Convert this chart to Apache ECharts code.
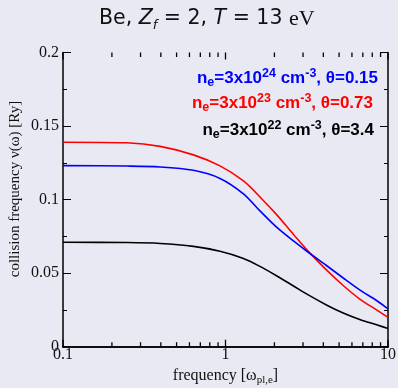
<!DOCTYPE html>
<html>
<head>
<meta charset="utf-8">
<script src="https://cdn.jsdelivr.net/npm/echarts@6/dist/echarts.min.js"></script>
<style>
html,body{margin:0;padding:0;background:#e9e9f3;}
#c{width:398px;height:388px;}
</style>
</head>
<body>
<div id="c"></div>
<script>
// frequency in units of omega_pl,e ; collision frequency in Ry
var freqs   = [0.1, 0.247, 0.396, 0.635, 0.925, 1.29, 1.63, 2.07, 2.62, 3.23, 4.18, 5.3, 6.7, 8.5, 10];
var nuBlue  = [0.1231, 0.1228, 0.1222, 0.1199, 0.1144, 0.1039, 0.0923, 0.0811, 0.0719, 0.0642, 0.0552, 0.0467, 0.0386, 0.0314, 0.0257];
var nuRed   = [0.1390, 0.1386, 0.1362, 0.1304, 0.1229, 0.1127, 0.1018, 0.0896, 0.0763, 0.0648, 0.0522, 0.0416, 0.0324, 0.0250, 0.0199];
var nuBlack = [0.0710, 0.0708, 0.0702, 0.0682, 0.0649, 0.0600, 0.0546, 0.0481, 0.0413, 0.0352, 0.0284, 0.0229, 0.0185, 0.0149, 0.0124];
var xMajorTicks = [0.1, 1, 10];
var xMinorTicks = [0.2, 0.3, 0.4, 0.5, 0.6, 0.7, 0.8, 0.9, 2, 3, 4, 5, 6, 7, 8, 9];
var xTickLabels = ['0.1', '1', '10'];
var yTickLabels = ['0', '0.05', '0.1', '0.15', '0.2'];

function pairs(xs, ys){ return xs.map(function(x,i){ return [x, ys[i]]; }); }

var chart = echarts.init(document.getElementById('c'), null, {renderer:'canvas'});
var serif = 'Liberation Serif';
var sans = 'Liberation Sans';

var legendRich = function(color){
  return {
    m: {fontFamily: sans, fontWeight: 'bold', fontSize: 17, fill: color, color: color, lineHeight: 22},
    sub: {fontFamily: sans, fontWeight: 'bold', fontSize: 12.5, fill: color, color: color, lineHeight: 10, verticalAlign: 'bottom'},
    sup: {fontFamily: sans, fontWeight: 'bold', fontSize: 12.5, fill: color, color: color, lineHeight: 10, verticalAlign: 'top'}
  };
};

// x tick items: [x, y at plot edge, direction (into plot)]
var majorItems = [], minorItems = [];
xMajorTicks.forEach(function(x){ majorItems.push([x, 0, -1]); majorItems.push([x, 0.2, 1]); });
xMinorTicks.forEach(function(x){ minorItems.push([x, 0, -1]); minorItems.push([x, 0.2, 1]); });

function tickSeries(items, len){
  return {type: 'custom', silent: true, clip: false, z: 10,
    data: items, encode: {x: 0, y: 1},
    renderItem: function(params, api){
      var p = api.coord([api.value(0), api.value(1)]);
      var d = api.value(2);
      return {type: 'line', shape: {x1: p[0], y1: p[1], x2: p[0], y2: p[1] + len * d},
              style: {stroke: '#000', lineWidth: 1.3}};
    }};
}

var option = {
  backgroundColor: '#e9e9f3',
  animation: false,
  title: {
    text: '{n|Be, }{i|Z}{s|f}{n| = 2, }{i|T}{n| = 13 }{r|eV}',
    left: 94,
    top: 1,
    textStyle: {
      fontWeight: 'normal',
      rich: {
        n: {fontFamily: 'DejaVu Sans', fontWeight: 'normal', fontSize: 20.5, color: '#111', lineHeight: 26},
        i: {fontFamily: 'DejaVu Sans', fontWeight: 'normal', fontStyle: 'italic', fontSize: 20.5, color: '#111', lineHeight: 26},
        s: {fontFamily: 'DejaVu Sans', fontWeight: 'normal', fontStyle: 'italic', fontSize: 13, color: '#111', lineHeight: 12, verticalAlign: 'bottom'},
        r: {fontFamily: serif, fontWeight: 'normal', fontSize: 22, color: '#111', lineHeight: 26}
      }
    }
  },
  grid: {left: 63, right: 10, top: 52.5, bottom: 41.3, show: false, containLabel: false, outerBoundsMode: 'none'},
  xAxis: [{
    type: 'log', logBase: 10, min: 0.1, max: 10, position: 'bottom',
    axisLine: {lineStyle: {color: '#000', width: 1.5}},
    axisTick: {show: false},
    splitLine: {show: false},
    axisLabel: {
      fontFamily: serif, fontSize: 16, color: '#111', margin: 0,
      formatter: function(v){ var s = String(+v.toPrecision(3)); return xTickLabels.indexOf(s) >= 0 ? s : ''; }
    },
    name: '{n|frequency [ω}{s|pl,e}{n|]}',
    nameLocation: 'middle', nameGap: 19,
    nameTextStyle: {
      rich: {
        n: {fontFamily: serif, fontSize: 16, color: '#111', lineHeight: 20},
        s: {fontFamily: serif, fontSize: 11, color: '#111', lineHeight: 10, verticalAlign: 'bottom'}
      }
    }
  }, {
    type: 'log', logBase: 10, min: 0.1, max: 10, position: 'top',
    axisLine: {lineStyle: {color: '#000', width: 1.5}},
    axisTick: {show: false},
    axisLabel: {show: false}, splitLine: {show: false}
  }],
  yAxis: [{
    type: 'value', min: 0, max: 0.2, interval: 0.05, position: 'left',
    axisLine: {show: true, lineStyle: {color: '#000', width: 1.5}},
    axisTick: {show: true, inside: true, length: 8, lineStyle: {color: '#000', width: 1}},
    minorTick: {show: true, splitNumber: 2, length: 4, lineStyle: {color: '#000', width: 1}},
    splitLine: {show: false},
    axisLabel: {
      fontFamily: serif, fontSize: 16, color: '#111', margin: 4,
      formatter: function(v){ var s = String(+v.toFixed(3)); return yTickLabels.indexOf(s) >= 0 ? s : ''; }
    }
  }, {
    type: 'value', min: 0, max: 0.2, interval: 0.05, position: 'right',
    axisLine: {show: true, lineStyle: {color: '#000', width: 1.5}},
    axisTick: {show: true, inside: true, length: 8, lineStyle: {color: '#000', width: 1}},
    minorTick: {show: true, splitNumber: 2, length: 4, lineStyle: {color: '#000', width: 1}},
    splitLine: {show: false}, axisLabel: {show: false}
  }],
  graphic: [
    {type: 'text', x: 15, y: 189, rotation: Math.PI / 2, style: {
      text: 'collision frequency ν(ω) [Ry]', fontFamily: serif, fontSize: 15, fill: '#111',
      textAlign: 'center', textVerticalAlign: 'middle'}},
    {type: 'text', right: 20, top: 67, style: {
      text: '{m|n}{sub|e}{m|=3x10}{sup|24}{m| cm}{sup|-3}{m|, θ=0.15}', rich: legendRich('#0000ff')}},
    {type: 'text', right: 25, top: 92, style: {
      text: '{m|n}{sub|e}{m|=3x10}{sup|23}{m| cm}{sup|-3}{m|, θ=0.73}', rich: legendRich('#ff0000')}},
    {type: 'text', right: 24, top: 119, style: {
      text: '{m|n}{sub|e}{m|=3x10}{sup|22}{m| cm}{sup|-3}{m|, θ=3.4}', rich: legendRich('#000000')}}
  ],
  series: [
    {type: 'line', name: 'black', data: pairs(freqs, nuBlack), showSymbol: false, smooth: 0.3,
     lineStyle: {color: '#000', width: 1.6}, itemStyle: {color: '#000'}},
    {type: 'line', name: 'red', data: pairs(freqs, nuRed), showSymbol: false, smooth: 0.3,
     lineStyle: {color: '#ff0000', width: 1.6}, itemStyle: {color: '#ff0000'}},
    {type: 'line', name: 'blue', data: pairs(freqs, nuBlue), showSymbol: false, smooth: 0.3,
     lineStyle: {color: '#0000ff', width: 1.6}, itemStyle: {color: '#0000ff'}},
    tickSeries(majorItems, 7),
    tickSeries(minorItems, 4.5)
  ]
};
chart.setOption(option);
</script>
</body>
</html>
